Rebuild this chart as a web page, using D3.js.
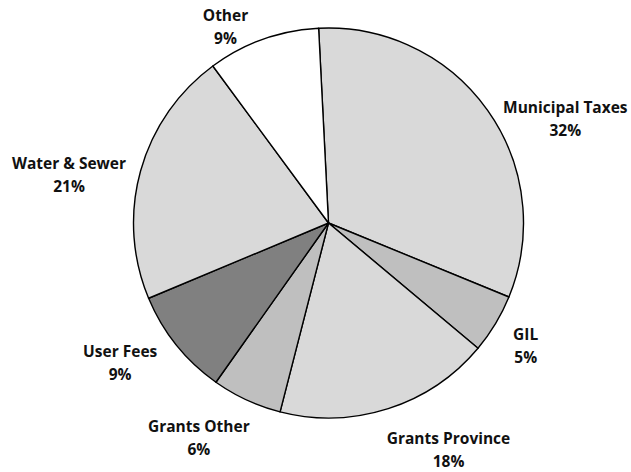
<!DOCTYPE html>
<html>
<head>
<meta charset="UTF-8" />
<script src="https://cdn.jsdelivr.net/npm/d3@7"></script>
<style>
  body { margin: 0; background: #fff; }
  text { font-family: "Open Sans", Lato, sans-serif; font-weight: bold; font-size: 15.5px; fill: #111; }
</style>
</head>
<body>
<div id="chart"></div>
<script>
// revenue sources (share of total, %)
const categories = ["Municipal Taxes", "GIL", "Grants Province", "Grants Other", "User Fees", "Water & Sewer", "Other"];
const shares = [32.0, 4.9, 17.9, 5.8, 8.9, 21.2, 9.3];
const pctLabels = ["32%", "5%", "18%", "6%", "9%", "21%", "9%"];

const w = 631, h = 472;
const cx = 328.5, cy = 223, r = 195;
const fills = ["#d9d9d9", "#bfbfbf", "#d9d9d9", "#bfbfbf", "#808080", "#d9d9d9", "#ffffff"];
// label nudges from the mid-angle point, Excel-style placement
const nudge = [[45, 32], [-4, 2], [48, 3], [-31, 2], [-25, -7], [-33, 15], [-24, 25]];

const svg = d3.select("#chart").append("svg")
    .attr("width", w).attr("height", h);

const startA = -2.9 * Math.PI / 180;
const pie = d3.pie().sort(null).value(d => d)
    .startAngle(startA).endAngle(startA + 2 * Math.PI);
const arcs = pie(shares);
const arc = d3.arc().innerRadius(0).outerRadius(r);

const g = svg.append("g").attr("transform", "translate(" + cx + "," + cy + ")");
g.selectAll("path").data(arcs).enter().append("path")
    .attr("d", arc)
    .attr("fill", (d, i) => fills[i])
    .attr("stroke", "#000")
    .attr("stroke-width", 1.4)
    .attr("stroke-linejoin", "round");

const labels = g.selectAll("text.lbl").data(arcs).enter().append("text")
    .attr("class", "lbl")
    .attr("text-anchor", "middle")
    .attr("transform", (d, i) => {
        const m = (d.startAngle + d.endAngle) / 2;
        const x = Math.sin(m) * (r + 40) + nudge[i][0];
        const y = -Math.cos(m) * (r + 40) + nudge[i][1];
        return "translate(" + x + "," + y + ")";
    });
labels.append("tspan").attr("x", 0).attr("y", -11.5).attr("dy", "0.35em").text((d, i) => categories[i]);
labels.append("tspan").attr("x", 0).attr("y", 11.5).attr("dy", "0.35em").text((d, i) => pctLabels[i]);
</script>
</body>
</html>
